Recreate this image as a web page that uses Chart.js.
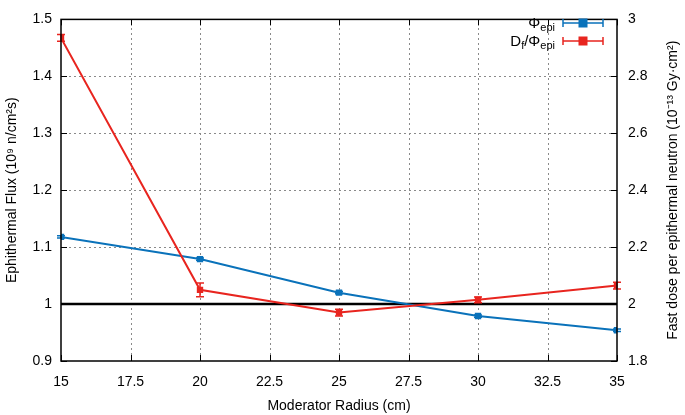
<!DOCTYPE html>
<html>
<head>
<meta charset="utf-8">
<script src="https://cdn.jsdelivr.net/npm/chart.js@4/dist/chart.umd.min.js"></script>
<style>
  html, body { margin: 0; padding: 0; background: #fff; }
  #wrap { width: 685px; height: 415px; position: relative; }
</style>
</head>
<body>
<div id="wrap"><canvas id="chart"></canvas></div>
<script>
// Data
const radius = [15, 20, 25, 30, 35];
const fluxEpi = [1.118, 1.079, 1.020, 0.979, 0.954];      // left axis
const fluxErr = [0.002, 0.002, 0.002, 0.002, 0.002];
const doseRatio = [2.935, 2.050, 1.970, 2.015, 2.065];    // right axis
const doseErr = [0.012, 0.024, 0.012, 0.010, 0.012];
const refLineX = [15, 35];
const refLineY = [1, 1];

const BLUE = '#0a72ba';
const RED = '#e8251f';
const FONT = "'Liberation Sans', Arial, sans-serif";

const toPoints = (xs, ys) => xs.map((x, i) => ({ x: x, y: ys[i] }));

/* ── dotted grid under the data (small dots, ~5px apart) ── */
function drawDottedGrid(chart) {
  const ctx = chart.ctx;
  const a = chart.chartArea;
  const sx = chart.scales.x, sy = chart.scales.y;
  const top = Math.round(a.top), bottom = Math.round(a.bottom);
  const left = Math.round(a.left), right = Math.round(a.right);
  const xs = [2.5, 5, 7.5, 10, 12.5, 15, 17.5].map(d => sx.min + d);
  const ys = [0.1, 0.2, 0.3, 0.4, 0.5].map(d => sy.min + d);
  ctx.save();
  ctx.fillStyle = '#8a8a8a';
  xs.forEach(v => {
    const p = Math.round(sx.getPixelForValue(v));
    for (let y = bottom - 3; y > top + 1; y -= 5) ctx.fillRect(p, y, 1, 2);
  });
  ys.forEach(v => {
    const p = Math.round(sy.getPixelForValue(v));
    for (let x = left + 3; x < right - 1; x += 5) ctx.fillRect(x, p, 2, 1);
  });
  ctx.restore();
}

const dottedGrid = {
  id: 'dottedGrid',
  beforeDraw(chart) {
    if (chart.chartArea) drawDottedGrid(chart);
  }
};

/* ── frame, inward tick marks, error bars, legend, right title ── */
const gnuplotLook = {
  id: 'gnuplotLook',
  afterDatasetsDraw(chart) {
    const ctx = chart.ctx;
    const a = chart.chartArea;
    const sx = chart.scales.x, sy = chart.scales.y, sy2 = chart.scales.y2;

    // error bars
    const drawErr = (ys, errs, scale, color) => {
      ctx.save();
      ctx.strokeStyle = color;
      ctx.lineWidth = 1.5;
      ys.forEach((v, i) => {
        const px = sx.getPixelForValue(radius[i]);
        const top = scale.getPixelForValue(v + errs[i]);
        const bot = scale.getPixelForValue(v - errs[i]);
        ctx.beginPath();
        ctx.moveTo(px, top); ctx.lineTo(px, bot);
        ctx.moveTo(px - 4, top); ctx.lineTo(px + 4, top);
        ctx.moveTo(px - 4, bot); ctx.lineTo(px + 4, bot);
        ctx.stroke();
      });
      ctx.restore();
    };
    drawErr(fluxEpi, fluxErr, sy, BLUE);
    drawErr(doseRatio, doseErr, sy2, RED);

    // frame
    ctx.save();
    ctx.strokeStyle = '#000';
    ctx.lineWidth = 1.5;
    ctx.strokeRect(a.left, a.top, a.right - a.left, a.bottom - a.top);

    // inward ticks
    ctx.lineWidth = 1;
    ctx.beginPath();
    sx.ticks.forEach(t => {
      const p = Math.round(sx.getPixelForValue(t.value)) + 0.5;
      ctx.moveTo(p, a.bottom); ctx.lineTo(p, a.bottom - 6);
      ctx.moveTo(p, a.top); ctx.lineTo(p, a.top + 6);
    });
    sy.ticks.forEach(t => {
      const p = Math.round(sy.getPixelForValue(t.value)) + 0.5;
      ctx.moveTo(a.left, p); ctx.lineTo(a.left + 6, p);
    });
    sy2.ticks.forEach(t => {
      const p = Math.round(sy2.getPixelForValue(t.value)) + 0.5;
      ctx.moveTo(a.right, p); ctx.lineTo(a.right - 6, p);
    });
    ctx.stroke();

    // legend
    const rows = [
      { parts: [['Φ', 0], ['epi', 1]], color: BLUE, y: 23 },
      { parts: [['D', 0], ['f', 1], ['/Φ', 0], ['epi', 1]], color: RED, y: 41 }
    ];
    const textRight = a.right - 62;
    rows.forEach(r => {
      let w = 0;
      r.parts.forEach(([s, sub]) => {
        ctx.font = (sub ? '11px ' : '15px ') + FONT;
        w += ctx.measureText(s).width;
      });
      let x = textRight - w;
      ctx.fillStyle = '#000';
      ctx.textBaseline = 'alphabetic';
      r.parts.forEach(([s, sub]) => {
        ctx.font = (sub ? '11px ' : '15px ') + FONT;
        ctx.fillText(s, x, r.y + (sub ? 8 : 5));
        x += ctx.measureText(s).width;
      });
      const x0 = a.right - 54, x1 = a.right - 14, xm = (x0 + x1) / 2;
      ctx.strokeStyle = r.color;
      ctx.lineWidth = 1.5;
      ctx.beginPath();
      ctx.moveTo(x0, r.y); ctx.lineTo(x1, r.y);
      ctx.moveTo(x0, r.y - 4); ctx.lineTo(x0, r.y + 4);
      ctx.moveTo(x1, r.y - 4); ctx.lineTo(x1, r.y + 4);
      ctx.stroke();
      ctx.fillStyle = r.color;
      ctx.fillRect(xm - 4.5, r.y - 4.5, 9, 9);
    });

    // right axis title, reading bottom to top
    ctx.translate(673, (a.top + a.bottom) / 2);
    ctx.rotate(-Math.PI / 2);
    ctx.font = '14px ' + FONT;
    ctx.fillStyle = '#000';
    ctx.textAlign = 'center';
    ctx.textBaseline = 'middle';
    ctx.fillText('Fast dose per epithermal neutron (10⁻¹³ Gy·cm²)', 0, 0);
    ctx.restore();
  }
};

new Chart(document.getElementById('chart'), {
  type: 'line',
  data: {
    datasets: [
      {
        label: 'ref',
        data: toPoints(refLineX, refLineY),
        yAxisID: 'y',
        borderColor: '#000',
        borderWidth: 2.5,
        pointRadius: 0,
        order: 3
      },
      {
        label: 'Φepi',
        data: toPoints(radius, fluxEpi),
        yAxisID: 'y',
        borderColor: BLUE,
        backgroundColor: BLUE,
        borderWidth: 2,
        pointStyle: 'rect',
        pointRadius: 4.5,
        pointBorderWidth: 0,
        order: 2
      },
      {
        label: 'Df/Φepi',
        data: toPoints(radius, doseRatio),
        yAxisID: 'y2',
        borderColor: RED,
        backgroundColor: RED,
        borderWidth: 2,
        pointStyle: 'rect',
        pointRadius: 4.5,
        pointBorderWidth: 0,
        order: 1
      }
    ]
  },
  options: {
    responsive: true,
    maintainAspectRatio: false,
    animation: false,
    layout: { padding: { top: 8, left: 0, right: 0, bottom: 0 } },
    plugins: {
      legend: { display: false },
      tooltip: { enabled: false }
    },
    scales: {
      x: {
        type: 'linear',
        min: 15,
        max: 35,
        ticks: {
          stepSize: 2.5,
          padding: 13,
          color: '#000',
          font: { family: FONT, size: 14 }
        },
        grid: { display: false, drawTicks: false },
        border: { display: false },
        title: {
          display: true,
          text: 'Moderator Radius (cm)',
          color: '#000',
          font: { family: FONT, size: 14 },
          padding: { top: 0, bottom: 0 }
        },
        afterFit: s => { s.height = 54; }
      },
      y: {
        position: 'left',
        min: 0.9,
        max: 1.5,
        ticks: {
          stepSize: 0.1,
          padding: 9,
          color: '#000',
          font: { family: FONT, size: 14 },
          callback: v => Number(v.toFixed(1)).toString()
        },
        grid: { display: false, drawTicks: false },
        border: { display: false },
        title: {
          display: true,
          text: 'Ephithermal Flux (10⁹ n/cm²s)',
          color: '#000',
          font: { family: FONT, size: 14 },
          padding: { top: 4, bottom: 0 }
        },
        afterFit: s => { s.width = 61; }
      },
      y2: {
        position: 'right',
        min: 1.8,
        max: 3,
        ticks: {
          stepSize: 0.2,
          padding: 11,
          color: '#000',
          font: { family: FONT, size: 14 },
          callback: v => Number(v.toFixed(1)).toString()
        },
        grid: { display: false, drawTicks: false },
        border: { display: false },
        afterFit: s => { s.width = 68; }
      }
    }
  },
  plugins: [dottedGrid, gnuplotLook]
});
</script>
</body>
</html>
